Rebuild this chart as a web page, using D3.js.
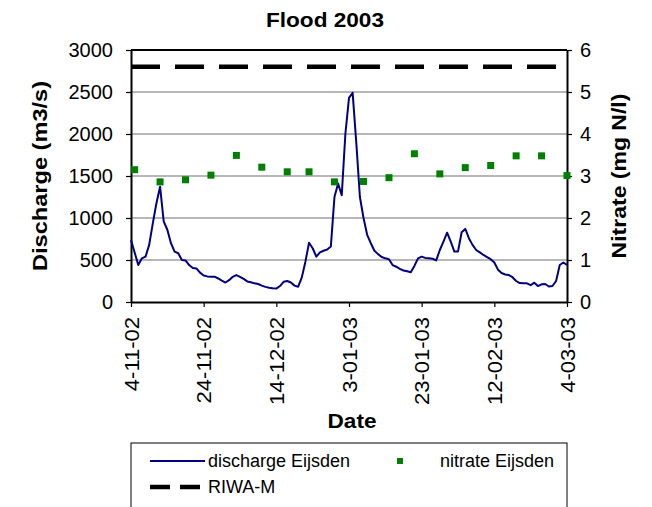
<!DOCTYPE html>
<html>
<head>
<meta charset="utf-8">
<script src="https://cdn.jsdelivr.net/npm/d3@7"></script>
<style>
  html, body { margin: 0; padding: 0; background: #fff; }
  text { font-family: Arial, "Liberation Sans", sans-serif; }
</style>
</head>
<body>
<svg id="chart" width="652" height="507"></svg>
<script>
// ---------- data ----------
const chartTitle = "Flood 2003";
const dischargeStart = "2002-11-04";
// daily discharge at Eijsden (m3/s), from 4-11-02 onwards
const dischargeValues = [
  738, 590, 440, 520, 540, 680, 937, 1175, 1373, 960,
  860, 700, 600, 580, 500, 495, 440, 405, 400, 350,
  315, 305, 301, 301, 280, 255, 232, 260, 300, 321,
  300, 275, 245, 235, 222, 214, 195, 180, 170, 163,
  160, 190, 240, 250, 232, 195, 182, 290, 480, 705,
  640, 540, 590, 610, 625, 660, 1250, 1410, 1270, 2000,
  2430, 2490, 1900, 1250, 1000, 800, 700, 610, 570, 535,
  520, 510, 440, 420, 395, 375, 365, 355, 430, 520,
  540, 525, 520, 515, 495, 619, 720, 825, 720, 600,
  600, 830, 870, 760, 680, 619, 590, 560, 535, 510,
  470, 385, 345, 328, 321, 295, 250, 225, 222, 222,
  200, 230, 190, 210, 214, 185, 190, 250, 440, 470,
  440
];
const nitrateDates = [
  "2002-11-05", "2002-11-12", "2002-11-19", "2002-11-26", "2002-12-03",
  "2002-12-10", "2002-12-17", "2002-12-23", "2002-12-30", "2003-01-07",
  "2003-01-14", "2003-01-21", "2003-01-28", "2003-02-04", "2003-02-11",
  "2003-02-18", "2003-02-25", "2003-03-04"
];
const nitrateValues = [
  3.15, 2.86, 2.91, 3.02, 3.49, 3.21, 3.10, 3.10, 2.86,
  2.87, 2.96, 3.53, 3.05, 3.20, 3.25, 3.48, 3.48, 3.01
];
const riwaValue = 5.6; // mg N/l
const xDomain = ["2002-11-04", "2003-03-04"];
const xTickDates = ["2002-11-04", "2002-11-24", "2002-12-14", "2003-01-03", "2003-01-23", "2003-02-12", "2003-03-04"];
const yLeftTicks = [0, 500, 1000, 1500, 2000, 2500, 3000];
const yRightTicks = [0, 1, 2, 3, 4, 5, 6];
const legendLabels = ["discharge Eijsden", "nitrate Eijsden", "RIWA-M"];

// ---------- layout ----------
const svg = d3.select("#chart");
const plot = { left: 131, right: 567, top: 50, bottom: 302 };
const parse = d3.utcParse("%Y-%m-%d");
const fmt = d3.utcFormat("%-d-%m-%y");

const x = d3.scaleUtc().domain(xDomain.map(parse)).range([plot.left, plot.right]);
const yL = d3.scaleLinear().domain([0, 3000]).range([plot.bottom, plot.top]);
const yR = d3.scaleLinear().domain([0, 6]).range([plot.bottom, plot.top]);

const startDate = parse(dischargeStart);
const discharge = dischargeValues.map((v, i) => ({ date: d3.utcDay.offset(startDate, i), value: v }));
const nitrate = nitrateDates.map((d, i) => ({ date: parse(d), value: nitrateValues[i] }));

const blue = "#000080", green = "#008000";

// widen glyphs along the text direction to match the reference rendering
function stretch(sel, k) {
  sel.each(function () {
    const len = this.getComputedTextLength();
    d3.select(this).attr("textLength", len * k).attr("lengthAdjust", "spacingAndGlyphs");
  });
}

// title
svg.append("text").attr("x", 325).attr("y", 27).attr("text-anchor", "middle")
  .style("font-size", "20px").style("font-weight", "bold").text(chartTitle)
  .call(stretch, 1.13);

// gridlines
svg.append("g").selectAll("line").data(yLeftTicks.filter(t => t > 0 && t < 3000)).join("line")
  .attr("x1", plot.left).attr("x2", plot.right)
  .attr("y1", d => yL(d)).attr("y2", d => yL(d))
  .attr("stroke", "#707070").attr("stroke-width", 1.2);

// top border
svg.append("line").attr("x1", plot.left).attr("x2", plot.right)
  .attr("y1", plot.top).attr("y2", plot.top).attr("stroke", "#000").attr("stroke-width", 2);

// axes
const axL = svg.append("g").attr("transform", `translate(${plot.left},0)`)
  .call(d3.axisLeft(yL).tickValues(yLeftTicks).tickFormat(d3.format("d")).tickSize(5).tickSizeOuter(0).tickPadding(13));
const axR = svg.append("g").attr("transform", `translate(${plot.right},0)`)
  .call(d3.axisRight(yR).tickValues(yRightTicks).tickFormat(d3.format("d")).tickSize(5).tickSizeOuter(0).tickPadding(8));
const axB = svg.append("g").attr("transform", `translate(0,${plot.bottom})`)
  .call(d3.axisBottom(x).tickValues(xTickDates.map(parse)).tickFormat(fmt).tickSize(5).tickSizeOuter(0));

[axL, axR, axB].forEach(a => {
  a.select(".domain").attr("stroke", "#000").attr("stroke-width", 2);
  a.selectAll(".tick line").attr("stroke", "#000").attr("stroke-width", 1.2);
  a.selectAll(".tick text").style("font-size", "20px").style("font-family", "Arial, 'Liberation Sans', sans-serif").attr("fill", "#000");
});
axB.selectAll(".tick text")
  .attr("transform", "rotate(-90)")
  .attr("text-anchor", "end")
  .attr("x", -15).attr("y", 0).attr("dy", "0.35em")
  .call(stretch, 1.1);

// axis titles
svg.append("text").attr("transform", `translate(47,${(plot.top + plot.bottom) / 2}) rotate(-90)`)
  .attr("text-anchor", "middle").style("font-size", "20px").style("font-weight", "bold").text("Discharge (m3/s)")
  .call(stretch, 1.18);
svg.append("text").attr("transform", `translate(626,${(plot.top + plot.bottom) / 2}) rotate(-90)`)
  .attr("text-anchor", "middle").style("font-size", "20px").style("font-weight", "bold").text("Nitrate (mg N/l)")
  .call(stretch, 1.15);
svg.append("text").attr("x", 352).attr("y", 428)
  .attr("text-anchor", "middle").style("font-size", "20px").style("font-weight", "bold").text("Date")
  .call(stretch, 1.13);

// RIWA-M line
svg.append("line").attr("x1", plot.left).attr("x2", plot.right)
  .attr("y1", yR(riwaValue)).attr("y2", yR(riwaValue))
  .attr("stroke", "#000").attr("stroke-width", 4.5).attr("stroke-dasharray", "29,15");

// discharge line
svg.append("path").datum(discharge)
  .attr("fill", "none").attr("stroke", blue).attr("stroke-width", 2)
  .attr("stroke-linejoin", "round")
  .attr("d", d3.line().x(d => x(d.date)).y(d => yL(d.value)));

// nitrate markers
const ms = 7;
svg.append("g").selectAll("rect").data(nitrate).join("rect")
  .attr("x", d => x(d.date) - ms / 2).attr("y", d => yR(d.value) - ms / 2)
  .attr("width", ms).attr("height", ms).attr("fill", green);

// legend
const lg = svg.append("g");
lg.append("rect").attr("x", plot.left).attr("y", 443).attr("width", plot.right - plot.left).attr("height", 80)
  .attr("fill", "#fff").attr("stroke", "#000").attr("stroke-width", 1);
lg.append("line").attr("x1", 150).attr("x2", 205).attr("y1", 461).attr("y2", 461)
  .attr("stroke", blue).attr("stroke-width", 2);
lg.append("text").attr("x", 208).attr("y", 467).style("font-size", "18px").text(legendLabels[0]);
lg.append("rect").attr("x", 400 - 3).attr("y", 461 - 3).attr("width", 6).attr("height", 6).attr("fill", green);
lg.append("text").attr("x", 440).attr("y", 467).style("font-size", "18px").text(legendLabels[1]);
lg.append("line").attr("x1", 150).attr("x2", 205).attr("y1", 487).attr("y2", 487)
  .attr("stroke", "#000").attr("stroke-width", 4.5).attr("stroke-dasharray", "20,10");
lg.append("text").attr("x", 208).attr("y", 493).style("font-size", "18px").text(legendLabels[2]);
</script>
</body>
</html>
